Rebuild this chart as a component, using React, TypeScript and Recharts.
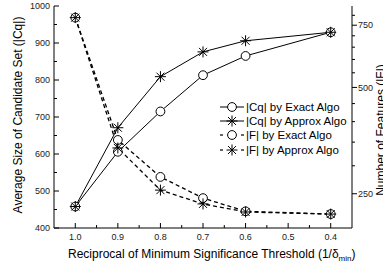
import React from 'react';
import { LineChart, Line, XAxis, YAxis, Legend } from 'recharts';

// reciprocal of min significance threshold
const THRESHOLDS = [1.0, 0.9, 0.8, 0.7, 0.6, 0.4];
// |Cq| (left axis)
const CQ_EXACT = [458, 606, 715, 813, 865, 929];
const CQ_APPROX = [458, 671, 809, 876, 906, 929];
// |F| (right axis, log scale)
const F_EXACT = [788, 355, 279, 243, 223, 219];
const F_APPROX = [788, 337, 256, 234, 222, 219];

const X_TICKS = [1.0, 0.95, 0.9, 0.85, 0.8, 0.75, 0.7, 0.65, 0.6, 0.55, 0.5, 0.45, 0.4];
const LEFT_TICKS = [400, 450, 500, 550, 600, 650, 700, 750, 800, 850, 900, 950, 1000];
const RIGHT_TICKS = [250, 300, 350, 400, 450, 500, 550, 600, 650, 700, 750, 800];
const RIGHT_LABELS = [250, 500, 750];

const SERIES = [
  { key: 'cqExact', name: '|Cq| by Exact Algo', marker: 'circle', dashed: false },
  { key: 'cqApprox', name: '|Cq| by Approx Algo', marker: 'star', dashed: false },
  { key: 'fExact', name: '|F| by Exact Algo', marker: 'circle', dashed: true },
  { key: 'fApprox', name: '|F| by Approx Algo', marker: 'star', dashed: true },
];

const rows = THRESHOLDS.map((x, i) => ({
  x,
  cqExact: CQ_EXACT[i],
  cqApprox: CQ_APPROX[i],
  fExact: F_EXACT[i],
  fApprox: F_APPROX[i],
}));

const FONT = '"Liberation Sans", Arial, sans-serif';
const TICK_COLOR = '#222';

const isMajorX = (v: number) => Math.round(v * 100) % 10 === 0;

function CircleMark({ cx, cy }: { cx: number; cy: number }) {
  return <circle cx={cx} cy={cy} r={4.4} fill="#fff" stroke="#000" strokeWidth={1} strokeDasharray="none" />;
}

function StarMark({ cx, cy }: { cx: number; cy: number }) {
  const r = 5.5;
  const d = 4;
  return (
    <g stroke="#000" strokeWidth={1} strokeDasharray="none">
      <line x1={cx} y1={cy - r} x2={cx} y2={cy + r} />
      <line x1={cx - r} y1={cy} x2={cx + r} y2={cy} />
      <line x1={cx - d} y1={cy - d} x2={cx + d} y2={cy + d} />
      <line x1={cx - d} y1={cy + d} x2={cx + d} y2={cy - d} />
    </g>
  );
}

const renderDot = (marker: string) => (props: any) => {
  const { cx, cy, index } = props;
  if (cx == null || cy == null) return <g key={index} />;
  return marker === 'circle'
    ? <CircleMark key={index} cx={cx} cy={cy} />
    : <StarMark key={index} cx={cx} cy={cy} />;
};

const BottomTick = (props: any) => {
  const { x, y, payload } = props;
  const major = isMajorX(payload.value);
  return (
    <g>
      <line x1={x} x2={x} y1={y} y2={y - (major ? 5 : 3)} stroke="#000" />
      {major && (
        <text x={x} y={y + 11.5} textAnchor="middle" fontSize={9} fill={TICK_COLOR}>
          {payload.value.toFixed(1)}
        </text>
      )}
    </g>
  );
};

const TopTick = (props: any) => {
  const { x, y, payload } = props;
  const major = isMajorX(payload.value);
  return <line x1={x} x2={x} y1={y} y2={y + (major ? 5 : 3)} stroke="#000" />;
};

const LeftTick = (props: any) => {
  const { x, y, payload } = props;
  const major = payload.value % 100 === 0;
  return (
    <g>
      <line x1={x} x2={x + (major ? 5 : 3)} y1={y} y2={y} stroke="#000" />
      {major && (
        <text x={x - 4} y={y + 3.2} textAnchor="end" fontSize={9} fill={TICK_COLOR}>
          {payload.value}
        </text>
      )}
    </g>
  );
};

const RightTick = (props: any) => {
  const { x, y, payload } = props;
  const major = RIGHT_LABELS.includes(payload.value);
  return (
    <g>
      <line x1={x} x2={x + (major ? 5 : 3)} y1={y} y2={y} stroke="#000" />
      {major && (
        <text x={x + 6} y={y + 3.2} textAnchor="start" fontSize={9} fill={TICK_COLOR}>
          {payload.value}
        </text>
      )}
    </g>
  );
};

const XTitle = (props: any) => {
  const { viewBox } = props;
  return (
    <text x={viewBox.x + 14} y={viewBox.y + 29.5} fontSize={12} fill="#000">
      Reciprocal of Minimum Significance Threshold (1/δ
      <tspan dy={3} fontSize={8}>min</tspan>
      <tspan dy={-3}>)</tspan>
    </text>
  );
};

const LeftTitle = (props: any) => {
  const { viewBox } = props;
  const cx = viewBox.x + 17.5;
  const cy = viewBox.y + viewBox.height / 2 - 2;
  return (
    <text x={cx} y={cy} dy="0.355em" transform={`rotate(-90 ${cx} ${cy})`} textAnchor="middle" fontSize={12} fill="#000">
      Average Size of Candidate Set (|Cq|)
    </text>
  );
};

const RightTitle = (props: any) => {
  const { viewBox } = props;
  const cx = viewBox.x + 29;
  const cy = viewBox.y + viewBox.height / 2 + 13;
  return (
    <text x={cx} y={cy} dy="0.355em" transform={`rotate(-90 ${cx} ${cy})`} textAnchor="middle" fontSize={12} fill="#000">
      Number of Features (|F|)
    </text>
  );
};

const renderLegend = () => (
  <div style={{ fontFamily: FONT, fontSize: 11.5, color: '#000' }}>
    {SERIES.map((s) => (
      <div key={s.key} style={{ display: 'flex', alignItems: 'center', height: 14.2 }}>
        <svg width={24} height={12} style={{ overflow: 'visible' }}>
          {s.dashed ? (
            <g stroke="#000" strokeWidth={1.2}>
              <line x1={0} x2={3} y1={6} y2={6} />
              <line x1={21} x2={24} y1={6} y2={6} />
            </g>
          ) : (
            <line x1={0} x2={24} y1={6} y2={6} stroke="#000" strokeWidth={1} />
          )}
          {s.marker === 'circle' ? <CircleMark cx={12} cy={6} /> : <StarMark cx={12} cy={6} />}
        </svg>
        <span style={{ marginLeft: 2, whiteSpace: 'nowrap' }}>{s.name}</span>
      </div>
    ))}
  </div>
);

export default function App() {
  return (
    <div style={{ position: 'absolute', left: 0, top: 0, width: 383, height: 262, background: '#fff', fontFamily: FONT }}>
      <LineChart width={383} height={262} data={rows} margin={{ top: 6, right: 0, bottom: 0, left: 0 }}>
        <XAxis
          dataKey="x"
          type="number"
          domain={[0.35, 1.05]}
          reversed
          allowDataOverflow
          ticks={X_TICKS}
          interval={0}
          tickSize={0}
          tickMargin={0}
          tickLine={false}
          tick={<BottomTick />}
          height={34}
          stroke="#000"
          label={{ content: XTitle }}
        />
        <XAxis
          xAxisId="top"
          orientation="top"
          dataKey="x"
          type="number"
          domain={[0.35, 1.05]}
          reversed
          allowDataOverflow
          ticks={X_TICKS}
          interval={0}
          tickSize={0}
          tickMargin={0}
          tickLine={false}
          tick={<TopTick />}
          height={0}
          stroke="#000"
        />
        <YAxis
          yAxisId="left"
          width={54}
          domain={[400, 1000]}
          allowDataOverflow
          ticks={LEFT_TICKS}
          interval={0}
          tickSize={0}
          tickMargin={0}
          tickLine={false}
          tick={<LeftTick />}
          stroke="#000"
          label={{ content: LeftTitle }}
        />
        <YAxis
          yAxisId="right"
          orientation="right"
          width={31}
          scale="log"
          domain={[200, 850]}
          allowDataOverflow
          ticks={RIGHT_TICKS}
          interval={0}
          tickSize={0}
          tickMargin={0}
          tickLine={false}
          tick={<RightTick />}
          stroke="#000"
          label={{ content: RightTitle }}
        />
        <Legend
          layout="vertical"
          align="center"
          verticalAlign="middle"
          content={renderLegend}
          wrapperStyle={{ left: 220, top: 100, width: 140 }}
        />
        {SERIES.map((s) => (
          <Line
            key={s.key}
            yAxisId={s.key.startsWith('cq') ? 'left' : 'right'}
            dataKey={s.key}
            name={s.name}
            type="linear"
            stroke="#000"
            strokeWidth={s.dashed ? 1.3 : 1}
            strokeDasharray={s.dashed ? '4 3' : undefined}
            dot={renderDot(s.marker)}
            activeDot={false}
            isAnimationActive={false}
          />
        ))}
      </LineChart>
    </div>
  );
}
